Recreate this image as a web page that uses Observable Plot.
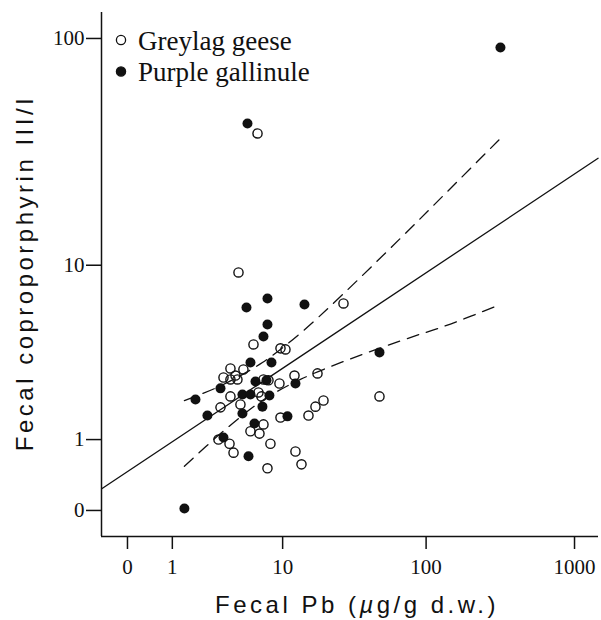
<!DOCTYPE html>
<html><head><meta charset="utf-8">
<script src="https://cdn.jsdelivr.net/npm/d3@7"></script>
<script src="https://cdn.jsdelivr.net/npm/@observablehq/plot@0.6"></script>
<style>
body{margin:0;background:#fff}
#chart{position:relative;width:601px;height:620px}
</style>
</head><body><div id="chart"></div>
<script>
// Series names
const species = ["Greylag geese", "Purple gallinule"];

// Greylag geese (open circles): fecal Pb (µg/g d.w.), coproporphyrin III/I
const geeseX = [6.46, 4.56, 27.17, 6.01, 9.64, 10.49, 3.91, 5.00, 3.41, 4.31, 3.91, 4.47, 7.18, 7.84, 9.47, 12.21, 17.85, 3.91, 6.57, 6.93, 3.21, 4.73, 9.64, 15.40, 17.27, 19.68, 48.13, 7.18, 5.69, 6.69, 3.08, 3.84, 4.15, 8.11, 12.41, 13.72, 7.70];
const geeseY = [38.9, 9.25, 6.57, 4.07, 3.88, 3.83, 3.01, 2.97, 2.67, 2.74, 2.60, 2.60, 2.60, 2.57, 2.46, 2.74, 2.82, 2.05, 2.17, 2.05, 1.74, 1.82, 1.48, 1.53, 1.76, 1.93, 2.05, 1.32, 1.17, 1.12, 1.00, 0.92, 0.76, 0.92, 0.78, 0.57, 0.51];

// Purple gallinule (filled circles)
const gallinuleX = [317.6, 5.39, 5.29, 7.70, 14.41, 7.70, 7.18, 5.69, 8.26, 6.23, 7.57, 12.41, 3.21, 1.86, 4.91, 5.69, 7.97, 7.05, 2.44, 4.91, 10.85, 6.12, 3.41, 5.49, 1.41, 48.13];
const gallinuleY = [91.5, 43.0, 6.28, 6.95, 6.49, 5.16, 4.48, 3.25, 3.25, 2.53, 2.57, 2.46, 2.30, 1.96, 2.11, 2.11, 2.08, 1.76, 1.53, 1.58, 1.51, 1.34, 1.04, 0.70, 0.02, 3.69];

// Fitted regression line (ends) and its confidence band
const fitX = [-0.48, 1440];
const fitY = [0.24, 30.3];
const bandX = [1.41, 3.21, 7.05, 13.49, 25.9, 67.0, 146.2, 317.6];
const upperY = [1.93, 2.38, 3.25, 4.66, 7.10, 13.33, 22.3, 37.0];
const lowerY = [0.54, 1.12, 1.93, 2.60, 3.24, 4.25, 5.19, 6.5];

// Axes
const xTicks = [0, 1, 10, 100, 1000];
const yTicks = [0, 1, 10, 100];
const xDomain = [-0.494, 1449];
const yDomain = [-0.29, 129.2];
const xTitle = "Fecal Pb (µg/g d.w.)";
const yTitle = "Fecal coproporphyrin III/I";

const geese = geeseX.map((x, i) => ({x, y: geeseY[i]}));
const gallinule = gallinuleX.map((x, i) => ({x, y: gallinuleY[i]}));
const fit = fitX.map((x, i) => ({x, y: fitY[i]}));
const upper = bandX.map((x, i) => ({x, y: upperY[i]}));
const lower = bandX.map((x, i) => ({x, y: lowerY[i]}));

const ink = "#111";
const serif = "'Liberation Serif', 'Times New Roman', serif";
const sans = "'Liberation Sans', Arial, sans-serif";

const chart = Plot.plot({
  width: 601,
  height: 620,
  marginLeft: 101,
  marginRight: 3,
  marginTop: 12,
  marginBottom: 84,
  style: {fontFamily: serif, fontSize: "21px", color: ink, background: "#fff"},
  x: {type: "symlog", domain: xDomain, label: null},
  y: {type: "symlog", domain: yDomain, label: null},
  marks: [
    Plot.ruleX([xDomain[0]], {stroke: ink, strokeWidth: 1.5}),
    Plot.ruleY([yDomain[0]], {stroke: ink, strokeWidth: 1.5}),
    Plot.axisX({ticks: xTicks, tickFormat: d => String(d), tickSize: 13, tickPadding: 10, strokeWidth: 1.5, fontSize: 21, fontFamily: serif, label: null}),
    Plot.axisY({ticks: yTicks, tickFormat: d => String(d), tickSize: 15, tickPadding: 2, strokeWidth: 1.5, fontSize: 21, fontFamily: serif, label: null}),
    Plot.line(fit, {x: "x", y: "y", stroke: ink, strokeWidth: 1.3}),
    Plot.line(upper, {x: "x", y: "y", stroke: ink, strokeWidth: 1.3, strokeDasharray: "12,8", curve: "catmull-rom"}),
    Plot.line(lower, {x: "x", y: "y", stroke: ink, strokeWidth: 1.3, strokeDasharray: "12,8", curve: "catmull-rom"}),
    Plot.dot(geese, {x: "x", y: "y", r: 4.6, stroke: ink, strokeWidth: 1.4, fill: "none"}),
    Plot.dot(gallinule, {x: "x", y: "y", r: 5, fill: ink, stroke: "none"})
  ]
});

const svg = d3.select(chart);
// Legend
const leg = svg.append("g").attr("text-anchor", "start");
const legendRows = [{name: species[0], fill: "none"}, {name: species[1], fill: ink}];
legendRows.forEach((d, i) => {
  const cy = 40 + i * 31.5;
  leg.append("circle").attr("cx", 121).attr("cy", cy).attr("r", 4.6)
    .attr("fill", d.fill).attr("stroke", ink).attr("stroke-width", 1.3);
  leg.append("text").attr("x", 138).attr("y", cy + 9.5).attr("text-anchor", "start")
    .attr("font-family", serif).attr("font-size", 27).attr("fill", ink).text(d.name);
});
// Axis titles
const xt = svg.append("text").attr("x", 357).attr("y", 613).attr("text-anchor", "middle")
  .attr("font-family", sans).attr("font-size", 24).attr("letter-spacing", "3.5px").attr("fill", ink);
const parts = xTitle.split("µ");
xt.append("tspan").text(parts[0]);
xt.append("tspan").attr("font-style", "italic").text("µ");
xt.append("tspan").text(parts[1]);
svg.append("text").attr("transform", "translate(33,273) rotate(-90)").attr("text-anchor", "middle")
  .attr("font-family", sans).attr("font-size", 24).attr("letter-spacing", "3.5px").attr("fill", ink)
  .text(yTitle);

document.getElementById("chart").appendChild(chart);
</script>
</body></html>
